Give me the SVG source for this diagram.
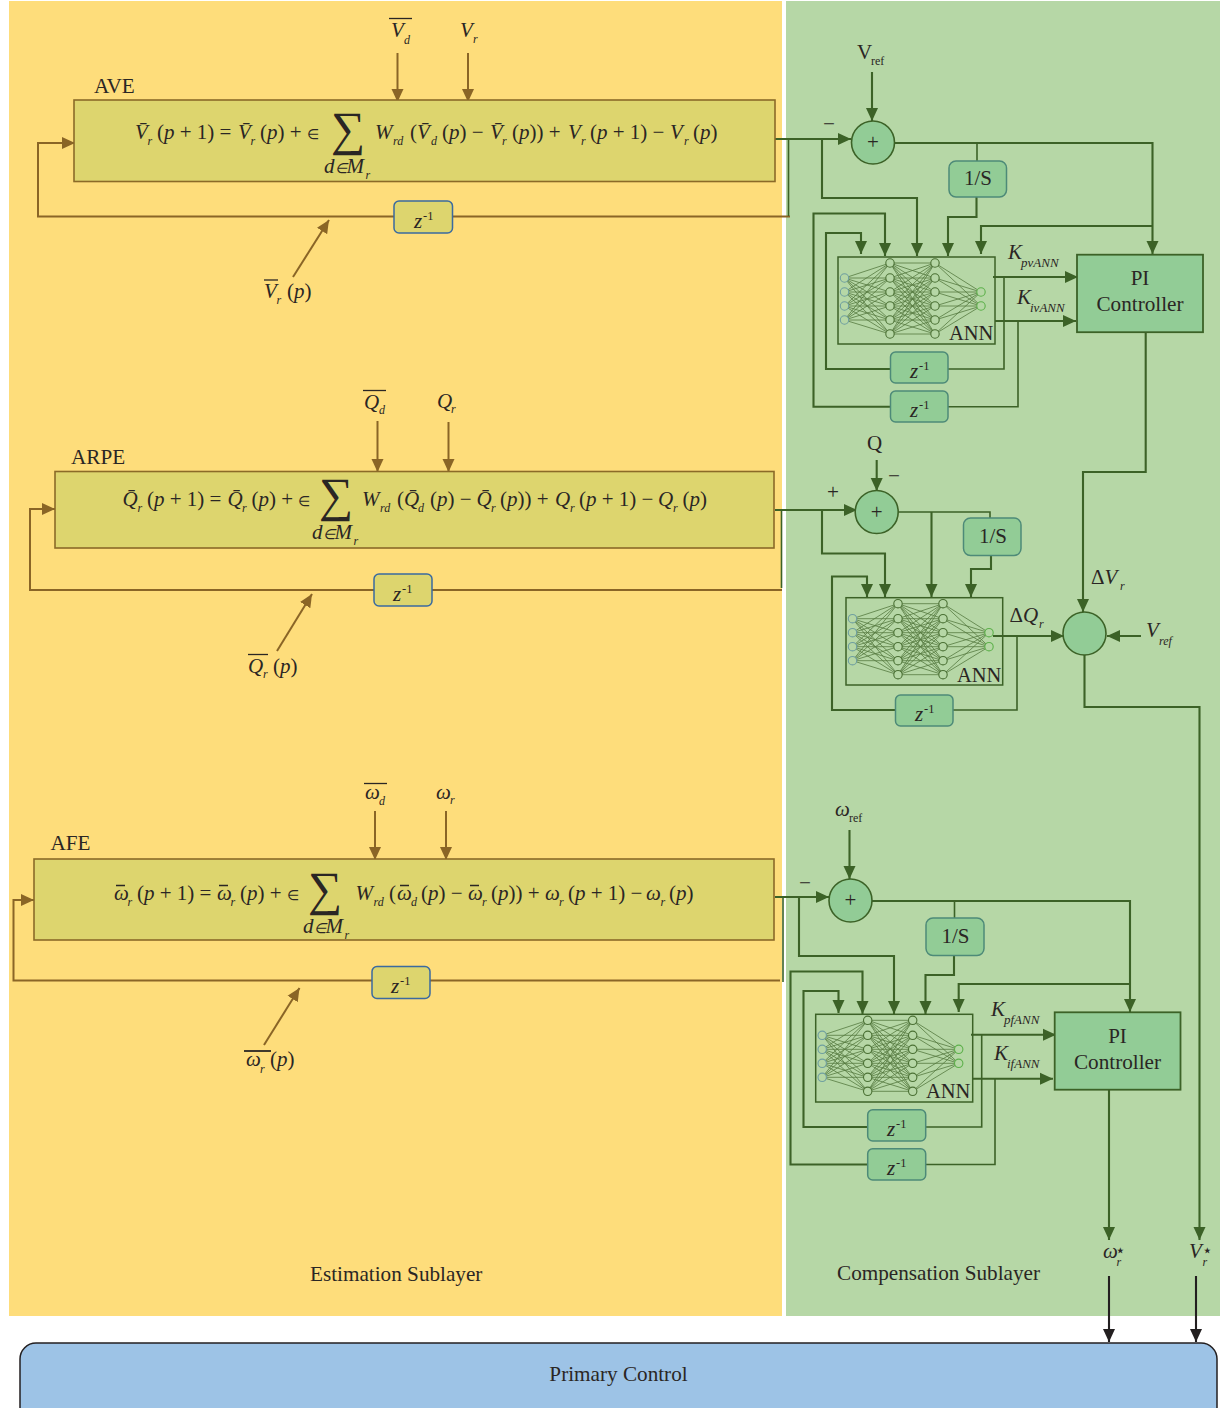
<svg xmlns="http://www.w3.org/2000/svg" xmlns:xlink="http://www.w3.org/1999/xlink" width="1220" height="1408" viewBox="0 0 1220 1408">
<style>
text{font-family:"Liberation Serif","Times New Roman",serif;fill:#2a2624}
.t{font-size:21.2px}
.a{font-size:20.5px}
.eq{font-size:21px}
.e{font-size:14px}
.i{font-style:italic}
.s{font-size:12px;font-style:italic}
.k{font-size:13px;font-style:italic}
.up{font-size:12.5px}
.est{fill:#ddd56e;stroke:#8b6a28;stroke-width:1.6}
.zy{fill:#ddd56e;stroke:#3a6aa0;stroke-width:1.5}
.zg{fill:#92cc96;stroke:#4d8a78;stroke-width:1.5}
.sum{fill:#92cc96;stroke:#3c6227;stroke-width:1.6}
.pi{fill:#92cc96;stroke:#3c6227;stroke-width:1.8}
.annb{fill:none;stroke:#3c6227;stroke-width:1.5}
.br,.gr,.gt,.bk{fill:none}
.br{stroke:#8a6526;stroke-width:2}
.gr{stroke:#3c6227;stroke-width:2.1}
.gt{stroke:#3c6227;stroke-width:1.6}
.bk{stroke:#231f20;stroke-width:2.1}
.ol{stroke:#2a2624;stroke-width:1.3}
.w{fill:none;stroke:#557a40;stroke-width:.8}
.n{fill:#b6d7a6;stroke:#4a7034;stroke-width:1.1}
.ni{fill:#b6d7a6;stroke:#6f9fa0;stroke-width:1.1}
.no{fill:#b6d7a6;stroke:#5cb04a;stroke-width:1.1}
</style>
<defs>
<marker id="ab" markerUnits="userSpaceOnUse" markerWidth="13" markerHeight="13" refX="13" refY="6.500" orient="auto"><path d="M0 0.500L13 6.500L0 12.500Z" fill="#8a6526"/></marker>
<marker id="ag" markerUnits="userSpaceOnUse" markerWidth="13" markerHeight="13" refX="13" refY="6.500" orient="auto"><path d="M0 0.500L13 6.500L0 12.500Z" fill="#3c6227"/></marker>
<marker id="ak" markerUnits="userSpaceOnUse" markerWidth="13" markerHeight="13" refX="13" refY="6.500" orient="auto"><path d="M0 0.500L13 6.500L0 12.500Z" fill="#231f20"/></marker>
<g id="net">
<path class="w" d="M6.500 21L52 6M6.500 21L52 21M6.500 21L52 35M6.500 21L52 49M6.500 21L52 63M6.500 21L52 77M6.500 35L52 6M6.500 35L52 21M6.500 35L52 35M6.500 35L52 49M6.500 35L52 63M6.500 35L52 77M6.500 49L52 6M6.500 49L52 21M6.500 49L52 35M6.500 49L52 49M6.500 49L52 63M6.500 49L52 77M6.500 63L52 6M6.500 63L52 21M6.500 63L52 35M6.500 63L52 49M6.500 63L52 63M6.500 63L52 77"/>
<path class="w" d="M52 6L97 6M52 6L97 21M52 6L97 35M52 6L97 49M52 6L97 63M52 6L97 77M52 21L97 6M52 21L97 21M52 21L97 35M52 21L97 49M52 21L97 63M52 21L97 77M52 35L97 6M52 35L97 21M52 35L97 35M52 35L97 49M52 35L97 63M52 35L97 77M52 49L97 6M52 49L97 21M52 49L97 35M52 49L97 49M52 49L97 63M52 49L97 77M52 63L97 6M52 63L97 21M52 63L97 35M52 63L97 49M52 63L97 63M52 63L97 77M52 77L97 6M52 77L97 21M52 77L97 35M52 77L97 49M52 77L97 63M52 77L97 77"/>
<path class="w" d="M97 6L143 35M97 21L143 35M97 35L143 35M97 49L143 35M97 63L143 35M97 77L143 35M97 6L143 49M97 21L143 49M97 35L143 49M97 49L143 49M97 63L143 49M97 77L143 49"/>
<g class="ni"><circle cx="6.500" cy="21" r="4.200"/><circle cx="6.500" cy="35" r="4.200"/><circle cx="6.500" cy="49" r="4.200"/><circle cx="6.500" cy="63" r="4.200"/></g>
<g class="n"><circle cx="52" cy="6" r="4.200"/><circle cx="52" cy="21" r="4.200"/><circle cx="52" cy="35" r="4.200"/><circle cx="52" cy="49" r="4.200"/><circle cx="52" cy="63" r="4.200"/><circle cx="52" cy="77" r="4.200"/><circle cx="97" cy="6" r="4.200"/><circle cx="97" cy="21" r="4.200"/><circle cx="97" cy="35" r="4.200"/><circle cx="97" cy="49" r="4.200"/><circle cx="97" cy="63" r="4.200"/><circle cx="97" cy="77" r="4.200"/></g>
<g class="no"><circle cx="143" cy="35" r="4.200"/><circle cx="143" cy="49" r="4.200"/></g>
</g>
</defs>

<g id="backgrounds">
<rect x="0" y="0" width="1220" height="1408" fill="#ffffff"/>
<rect x="9" y="1" width="773" height="1315" fill="#fedd7b"/>
<rect x="786" y="1" width="434" height="1315" fill="#b6d7a6"/>
<text class="t" x="310" y="1281">Estimation Sublayer</text>
<text class="t" x="837" y="1280">Compensation Sublayer</text>
</g>

<g id="connectors">
<path class="br" marker-end="url(#ab)" d="M397.500 53V102"/>
<path class="br" marker-end="url(#ab)" d="M468 53V102"/>
<path class="br" marker-end="url(#ab)" d="M790 216.500H38V143H75"/>
<path class="br" marker-end="url(#ab)" d="M293 277L329 220"/>
<path class="br" marker-end="url(#ab)" d="M377.500 421V472"/>
<path class="br" marker-end="url(#ab)" d="M448.500 422V472"/>
<path class="br" marker-end="url(#ab)" d="M782 590H30V509H55"/>
<path class="br" marker-end="url(#ab)" d="M277 651L312 594"/>
<path class="br" marker-end="url(#ab)" d="M375 811V860"/>
<path class="br" marker-end="url(#ab)" d="M446 811V860"/>
<path class="br" marker-end="url(#ab)" d="M780 980.500H13.500V900H34"/>
<path class="br" marker-end="url(#ab)" d="M264 1045L299.500 988"/>

<path class="gt" d="M788.500 139V216"/>
<path class="gr" marker-end="url(#ag)" d="M775 139H851"/>
<path class="gr" marker-end="url(#ag)" d="M872 72V121"/>
<path class="gr" marker-end="url(#ag)" d="M822 139V198H917V256"/>
<path class="gr" marker-end="url(#ag)" d="M894 143H1152.500V254"/>
<path class="gt" d="M977 142V161"/>
<path class="gr" marker-end="url(#ag)" d="M976.500 197V217H948V256"/>
<path class="gr" marker-end="url(#ag)" d="M1152.500 226H981V254"/>
<path class="gr" marker-end="url(#ag)" d="M890 406.700H813.500V213.500H885V256"/>
<path class="gr" marker-end="url(#ag)" d="M890 369H826V233H861V254"/>
<path class="gr" marker-end="url(#ag)" d="M993 277H1078"/>
<path class="gr" marker-end="url(#ag)" d="M995 321H1076"/>
<path class="gt" d="M1004 277V369H948"/>
<path class="gt" d="M1018 321V406.700H948"/>
<path class="gr" marker-end="url(#ag)" d="M1145.700 332V472H1083V612"/>

<path class="gt" d="M781.500 510V588"/>
<path class="gr" marker-end="url(#ag)" d="M775 510H857"/>
<path class="gr" marker-end="url(#ag)" d="M876.700 460V491"/>
<path class="gr" marker-end="url(#ag)" d="M822 510V553.500H885V597"/>
<path class="gt" d="M898 512H990V518"/>
<path class="gr" marker-end="url(#ag)" d="M931.500 512V597"/>
<path class="gr" marker-end="url(#ag)" d="M991 555V569H971V597"/>
<path class="gr" marker-end="url(#ag)" d="M895 710H832V576.500H867V597"/>
<path class="gr" marker-end="url(#ag)" d="M993 636H1064"/>
<path class="gt" d="M1017 636V710H953"/>
<path class="gr" marker-end="url(#ag)" d="M1141 636H1107"/>
<path class="gr" marker-end="url(#ag)" d="M1084.500 655V707H1199.500V1240"/>

<path class="gt" d="M783 897V982"/>
<path class="gr" marker-end="url(#ag)" d="M775 897H829"/>
<path class="gr" marker-end="url(#ag)" d="M849.500 830V879"/>
<path class="gr" marker-end="url(#ag)" d="M799 897V956H894V1014"/>
<path class="gr" marker-end="url(#ag)" d="M871.700 901H1130V1012"/>
<path class="gt" d="M954.500 901V918"/>
<path class="gr" marker-end="url(#ag)" d="M954 955V975H925.500V1014"/>
<path class="gr" marker-end="url(#ag)" d="M1130 984H958.700V1012"/>
<path class="gr" marker-end="url(#ag)" d="M868 1164.500H790.500V971.500H862.500V1014"/>
<path class="gr" marker-end="url(#ag)" d="M868 1127H803.500V991H838.500V1013"/>
<path class="gr" marker-end="url(#ag)" d="M971 1034.700H1056"/>
<path class="gr" marker-end="url(#ag)" d="M973 1078.700H1053"/>
<path class="gt" d="M981.700 1035V1127H926"/>
<path class="gt" d="M995 1079V1164.500H926"/>
<path class="gr" marker-end="url(#ag)" d="M1109 1090V1240"/>

<path class="bk" marker-end="url(#ak)" d="M1109 1276V1342"/>
<path class="bk" marker-end="url(#ak)" d="M1196 1276V1342"/>
</g>

<g id="ave">
<rect class="est" x="74" y="100" width="701" height="81.500"/>
<text class="t" x="94" y="93">AVE</text>
<text class="eq i" x="135" y="139">V̄</text><text class="s" x="147.500" y="145">r</text>
<text class="eq" x="157" y="139">(<tspan class="i">p</tspan> + 1) =</text>
<text class="eq i" x="238" y="139">V̄</text><text class="s" x="250.500" y="145">r</text>
<text class="eq" x="260" y="139">(<tspan class="i">p</tspan>) + <tspan class="e">∈</tspan></text>
<text x="331" y="145" font-size="48">∑</text>
<text class="eq i" x="324" y="173">d<tspan class="e">∈</tspan>M</text><text class="s" x="365.500" y="179">r</text>
<text class="eq i" x="375" y="139">W</text><text class="s" x="393" y="145">rd</text>
<text class="eq" x="410" y="139">(</text><text class="eq i" x="417" y="139">V̄</text><text class="s" x="431" y="145">d</text>
<text class="eq" x="442" y="139">(<tspan class="i">p</tspan>) −</text>
<text class="eq i" x="490" y="139">V̄</text><text class="s" x="502" y="145">r</text>
<text class="eq" x="512" y="139">(<tspan class="i">p</tspan>)) +</text>
<text class="eq i" x="568" y="139">V</text><text class="s" x="581" y="145">r</text>
<text class="eq" x="590" y="139">(<tspan class="i">p</tspan> + 1) −</text>
<text class="eq i" x="670" y="139">V</text><text class="s" x="684" y="145">r</text>
<text class="eq" x="693" y="139">(<tspan class="i">p</tspan>)</text>
</g>
<g id="ave-inputs">
<line class="ol" x1="389" y1="18.500" x2="412" y2="18.500"/>
<text class="eq i" x="391" y="37">V</text><text class="s" x="404" y="44">d</text>
<text class="eq i" x="460" y="37">V</text><text class="s" x="473" y="43">r</text>
<line class="ol" x1="264" y1="280" x2="278" y2="280"/>
<text class="eq i" x="264" y="298">V</text><text class="s" x="276.500" y="304">r</text>
<text class="eq" x="287" y="298">(<tspan class="i">p</tspan>)</text>
</g>
<g id="ave-z"><rect class="zy" x="394" y="201" width="58.500" height="32" rx="5"/><text class="eq i" x="414" y="228">z</text><text class="up" x="423" y="220">-1</text></g>

<g id="arpe">
<rect class="est" x="55" y="471.500" width="719" height="76.500"/>
<text class="t" x="71" y="464">ARPE</text>
<text class="eq i" x="122.500" y="506">Q̄</text><text class="s" x="137.500" y="512">r</text>
<text class="eq" x="147" y="506">(<tspan class="i">p</tspan> + 1) =</text>
<text class="eq i" x="227.500" y="506">Q̄</text><text class="s" x="242" y="512">r</text>
<text class="eq" x="251.500" y="506">(<tspan class="i">p</tspan>) + <tspan class="e">∈</tspan></text>
<text x="319" y="511" font-size="48">∑</text>
<text class="eq i" x="312" y="539">d<tspan class="e">∈</tspan>M</text><text class="s" x="353.500" y="545">r</text>
<text class="eq i" x="362" y="506">W</text><text class="s" x="380" y="512">rd</text>
<text class="eq" x="397" y="506">(</text><text class="eq i" x="404" y="506">Q̄</text><text class="s" x="418" y="512">d</text>
<text class="eq" x="430" y="506">(<tspan class="i">p</tspan>) −</text>
<text class="eq i" x="476.500" y="506">Q̄</text><text class="s" x="491" y="512">r</text>
<text class="eq" x="500" y="506">(<tspan class="i">p</tspan>)) +</text>
<text class="eq" x="555" y="506"><tspan class="i">Q</tspan></text><text class="s" x="570" y="512">r</text>
<text class="eq" x="579" y="506">(<tspan class="i">p</tspan> + 1) −</text>
<text class="eq i" x="658" y="506">Q</text><text class="s" x="673" y="512">r</text>
<text class="eq" x="682.500" y="506">(<tspan class="i">p</tspan>)</text>
</g>
<g id="arpe-inputs">
<line class="ol" x1="363" y1="390.500" x2="386" y2="390.500"/>
<text class="eq i" x="364" y="409">Q</text><text class="s" x="379" y="414">d</text>
<text class="eq i" x="437" y="408">Q</text><text class="s" x="451" y="413">r</text>
<line class="ol" x1="248" y1="654.500" x2="268" y2="654.500"/>
<text class="eq i" x="248" y="673">Q</text><text class="s" x="263" y="678">r</text>
<text class="eq" x="273" y="673">(<tspan class="i">p</tspan>)</text>
</g>
<g id="arpe-z"><rect class="zy" x="374" y="574" width="58" height="32" rx="5"/><text class="eq i" x="393" y="601">z</text><text class="up" x="402" y="593">-1</text></g>

<g id="afe">
<rect class="est" x="34" y="859" width="740" height="81"/>
<text class="t" x="50.500" y="850">AFE</text>
<path class="ol" d="M116 885.500H125M219 885.500H228M400 885.500H409M470 885.500H479"/>
<text class="eq i" x="114" y="900">ω</text><text class="s" x="127.500" y="906">r</text>
<text class="eq" x="137" y="900">(<tspan class="i">p</tspan> + 1) =</text>
<text class="eq i" x="217" y="900">ω</text><text class="s" x="230.500" y="906">r</text>
<text class="eq" x="240" y="900">(<tspan class="i">p</tspan>) + <tspan class="e">∈</tspan></text>
<text x="308" y="905" font-size="48">∑</text>
<text class="eq i" x="303" y="933">d<tspan class="e">∈</tspan>M</text><text class="s" x="344.500" y="939">r</text>
<text class="eq i" x="355.500" y="900">W</text><text class="s" x="373.500" y="906">rd</text>
<text class="eq" x="389" y="900">(</text><text class="eq i" x="397" y="900">ω</text><text class="s" x="411" y="906">d</text>
<text class="eq" x="421" y="900">(<tspan class="i">p</tspan>) −</text>
<text class="eq i" x="468" y="900">ω</text><text class="s" x="482" y="906">r</text>
<text class="eq" x="491" y="900">(<tspan class="i">p</tspan>)) +</text>
<text class="eq i" x="545" y="900">ω</text><text class="s" x="559" y="906">r</text>
<text class="eq" x="568" y="900">(<tspan class="i">p</tspan> + 1) −</text>
<text class="eq i" x="646" y="900">ω</text><text class="s" x="660.500" y="906">r</text>
<text class="eq" x="669" y="900">(<tspan class="i">p</tspan>)</text>
</g>
<g id="afe-inputs">
<line class="ol" x1="364" y1="783.500" x2="387" y2="783.500"/>
<text class="eq i" x="365" y="799">ω</text><text class="s" x="379" y="805">d</text>
<text class="eq i" x="436" y="799">ω</text><text class="s" x="450" y="804">r</text>
<line x1="244" y1="1051" x2="271" y2="1051" stroke="#2a2624" stroke-width="1.8"/>
<text class="eq i" x="246" y="1066">ω</text><text class="s" x="260" y="1073">r</text>
<text class="eq" x="270" y="1066">(<tspan class="i">p</tspan>)</text>
</g>
<g id="afe-z"><rect class="zy" x="372" y="966.500" width="58" height="32" rx="5"/><text class="eq i" x="391" y="993">z</text><text class="up" x="400" y="985">-1</text></g>

<g id="voltage-comp">
<text class="eq" x="857" y="59">V</text><text x="871" y="65" font-size="12">ref</text>
<text class="t" x="823" y="131">−</text>
<g id="sum1"><circle class="sum" cx="873" cy="142.500" r="21.500"/><text class="eq" x="873" y="149" text-anchor="middle">+</text></g>
<g id="is1"><rect class="zg" x="949" y="161" width="57.500" height="36" rx="7"/><text class="eq" x="978" y="185" text-anchor="middle">1/S</text></g>
<g id="ann1"><rect class="annb" x="838" y="257" width="157" height="87"/><use xlink:href="#net" href="#net" x="838" y="257"/><text class="a" x="949" y="340">ANN</text></g>
<text class="eq i" x="1008" y="259">K</text><text class="k" x="1021" y="267">pvANN</text>
<text class="eq i" x="1017" y="304">K</text><text class="k" x="1030" y="312">ivANN</text>
<g id="pi1"><rect class="pi" x="1077" y="254.700" width="126" height="77.500"/><text class="eq" x="1140" y="285" text-anchor="middle">PI</text><text class="t" x="1140" y="311" text-anchor="middle">Controller</text></g>
<g id="z1a"><rect class="zg" x="890.500" y="352" width="57.500" height="31" rx="5"/><text class="eq i" x="910" y="378">z</text><text class="up" x="919" y="370">-1</text></g>
<g id="z1b"><rect class="zg" x="890.500" y="391" width="57.500" height="31" rx="5"/><text class="eq i" x="910" y="417">z</text><text class="up" x="919" y="409">-1</text></g>
</g>

<g id="reactive-comp">
<text class="eq" x="874.500" y="450" text-anchor="middle">Q</text>
<text class="t" x="888" y="483">−</text>
<text class="t" x="827" y="499">+</text>
<g id="sum2"><circle class="sum" cx="876.700" cy="512" r="21.500"/><text class="eq" x="876.700" y="519" text-anchor="middle">+</text></g>
<g id="is2"><rect class="zg" x="963.500" y="518" width="57.500" height="37.500" rx="7"/><text class="eq" x="993" y="543" text-anchor="middle">1/S</text></g>
<g id="ann2"><rect class="annb" x="846" y="597.700" width="156.700" height="87.300"/><use xlink:href="#net" href="#net" x="846" y="597.700"/><text class="a" x="957" y="682">ANN</text></g>
<text class="eq" x="1009.500" y="622">Δ<tspan class="i">Q</tspan></text><text class="s" x="1039" y="628">r</text>
<g id="z2"><rect class="zg" x="895.500" y="695" width="57.500" height="31" rx="5"/><text class="eq i" x="915" y="721">z</text><text class="up" x="924" y="713">-1</text></g>
<g id="sum3"><circle class="sum" cx="1084.500" cy="633.500" r="21.500"/></g>
<text class="eq" x="1091" y="584">Δ<tspan class="i">V</tspan></text><text class="s" x="1120" y="590">r</text>
<text class="eq i" x="1146" y="637">V</text><text class="s" x="1159" y="645">ref</text>
</g>

<g id="frequency-comp">
<text class="eq i" x="835" y="816">ω</text><text x="849" y="822" font-size="12">ref</text>
<text class="t" x="799" y="890">−</text>
<g id="sum4"><circle class="sum" cx="850.500" cy="900.500" r="21.500"/><text class="eq" x="850.500" y="907" text-anchor="middle">+</text></g>
<g id="is3"><rect class="zg" x="926" y="918" width="58" height="37.500" rx="7"/><text class="eq" x="955.500" y="943" text-anchor="middle">1/S</text></g>
<g id="ann3"><rect class="annb" x="815.700" y="1014.300" width="157" height="87.700"/><use xlink:href="#net" href="#net" x="815.700" y="1014.300"/><text class="a" x="926" y="1098">ANN</text></g>
<text class="eq i" x="991" y="1016">K</text><text class="k" x="1004" y="1024">pfANN</text>
<text class="eq i" x="994" y="1060">K</text><text class="k" x="1007" y="1068">ifANN</text>
<g id="pi2"><rect class="pi" x="1054.700" y="1012.300" width="125.800" height="77.400"/><text class="eq" x="1117.500" y="1043" text-anchor="middle">PI</text><text class="t" x="1117.500" y="1069" text-anchor="middle">Controller</text></g>
<g id="z3a"><rect class="zg" x="867.700" y="1109.700" width="58" height="31.300" rx="5"/><text class="eq i" x="887" y="1136">z</text><text class="up" x="896" y="1128">-1</text></g>
<g id="z3b"><rect class="zg" x="867.700" y="1148.700" width="58" height="31.300" rx="5"/><text class="eq i" x="887" y="1175">z</text><text class="up" x="896" y="1167">-1</text></g>
</g>

<g id="setpoints">
<text class="eq i" x="1103" y="1258">ω</text><text x="1115" y="1256" font-size="17" style="font-family:'DejaVu Sans',sans-serif">⋆</text><text class="s" x="1116.500" y="1266">r</text>
<text class="eq i" x="1189" y="1258">V</text><text x="1202" y="1256" font-size="17" style="font-family:'DejaVu Sans',sans-serif">⋆</text><text class="s" x="1202.500" y="1266">r</text>
</g>

<g id="primary"><rect x="20" y="1343" width="1197" height="80" rx="16" fill="#9dc3e6" stroke="#231f20" stroke-width="1.5"/><text class="t" x="618.500" y="1381" text-anchor="middle">Primary Control</text></g>
</svg>
